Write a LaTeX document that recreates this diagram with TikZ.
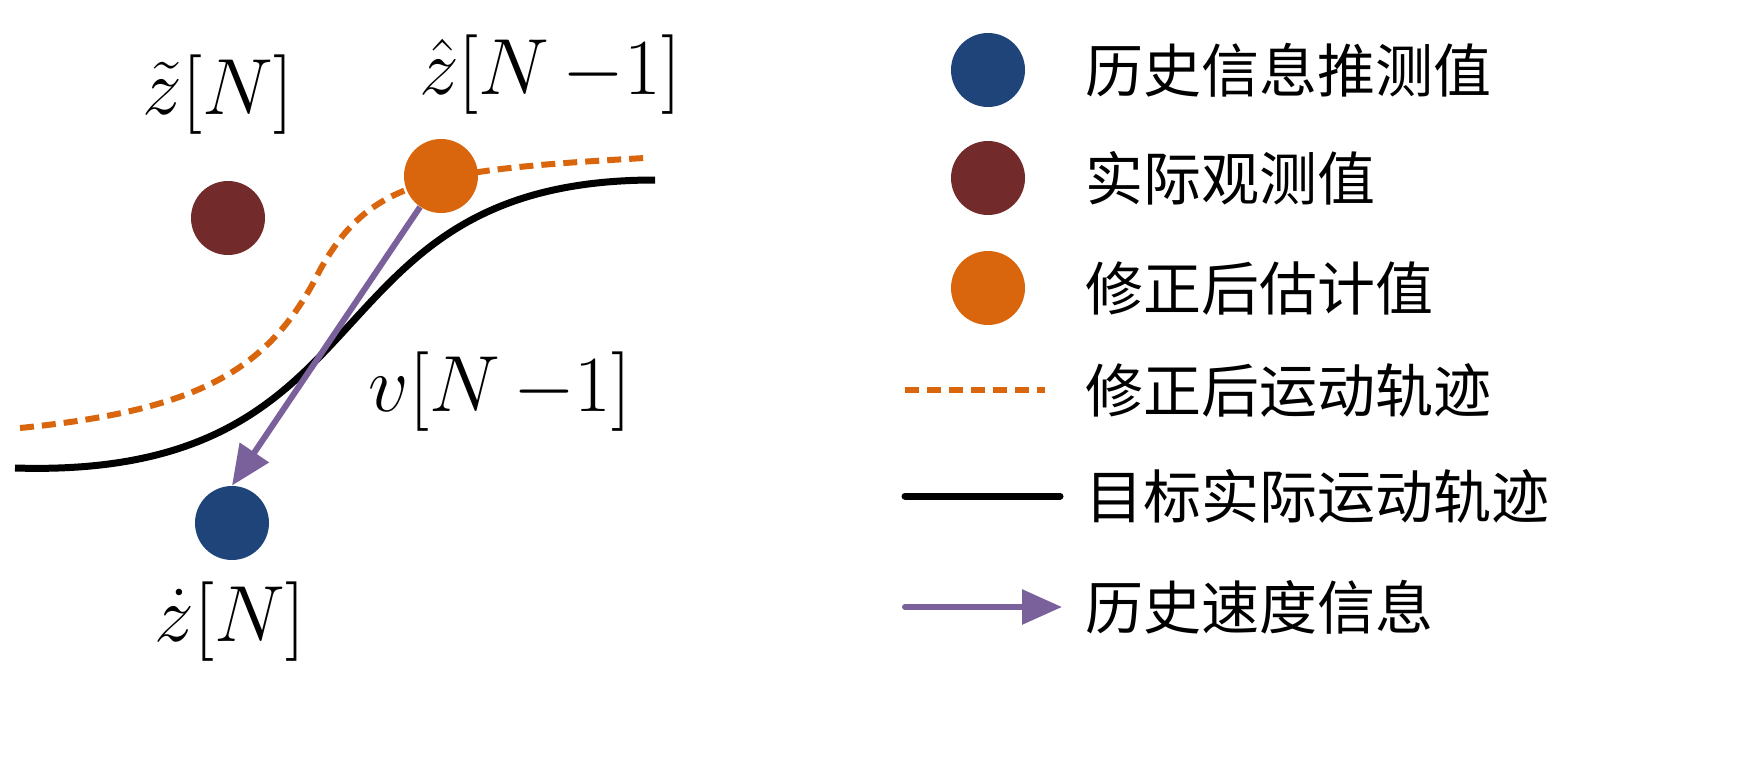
\documentclass[tikz,border=0pt]{standalone}
\usepackage{fontspec}
\newfontfamily\cjk{Noto Sans CJK SC}
\usetikzlibrary{arrows.meta}
\definecolor{cblue}{HTML}{1F4479}
\definecolor{cbrown}{HTML}{722A2A}
\definecolor{corange}{HTML}{D9660D}
\definecolor{cpurple}{HTML}{7A619C}
\begin{document}
\begin{tikzpicture}[x=0.5pt,y=-0.5pt,
  dot/.style={circle,minimum size=37pt,inner sep=0pt},
  lab/.style={anchor=west,font=\cjk\fontsize{29}{31}\selectfont,inner sep=0pt},
  mlab/.style={scale=1.6,font=\Huge,inner sep=0pt},
  traj/.style={line width=3.5pt},
  dtraj/.style={line width=3pt,corange,dash pattern=on 7pt off 4pt},
  varr/.style={line width=3pt,cpurple,-{Triangle[length=20pt,width=17pt]}}]
\useasboundingbox (0,0) rectangle (1744,781);
\draw[traj] (15,468) .. controls (400,480) and (300,180) .. (655,180);
\draw[dtraj] (20,428) .. controls (200,410) and (270,370) .. (320,270) .. controls (370,180) and (430,170) .. (645,158);
\node[dot,fill=cbrown] (meas) at (228,218) {};
\node[dot,fill=cblue] (pred) at (232,523) {};
\node[dot,fill=corange] (corr) at (441,176) {};
\draw[varr] (corr) -- (pred.north);
\node[mlab] (l1) at (218,95) {$\tilde z\Big[N\Big]$};
\node[mlab] (l2) at (550,75) {$\hat z\Big[N\,{-}1\Big]$};
\node[mlab] (l3) at (500,392) {$v\Big[N\,{-}1\Big]$};
\node[mlab] (l4) at (230,622) {$\dot z\Big[N\Big]$};
\node[dot,fill=cblue] (g1) at (988,70) {};
\node[dot,fill=cbrown] (g2) at (988,178) {};
\node[dot,fill=corange] (g3) at (988,288) {};
\coordinate (d1) at (905,390); \coordinate (d2) at (1045,390);
\draw[dtraj] (d1) -- (d2);
\coordinate (b1) at (905,496); \coordinate (b2) at (1060,496);
\draw[traj,line cap=round] (b1) -- (b2);
\coordinate (a1) at (905,607); \coordinate (a2) at (1062,607);
\draw[varr,line cap=round] (a1) -- (a2);
\node[lab] (t1) at (1085,70) {历史信息推测值};
\node[lab] (t2) at (1085,178) {实际观测值};
\node[lab] (t3) at (1085,288) {修正后估计值};
\node[lab] (t4) at (1085,390) {修正后运动轨迹};
\node[lab] (t5) at (1085,496) {目标实际运动轨迹};
\node[lab] (t6) at (1085,607) {历史速度信息};
\end{tikzpicture}
\end{document}
